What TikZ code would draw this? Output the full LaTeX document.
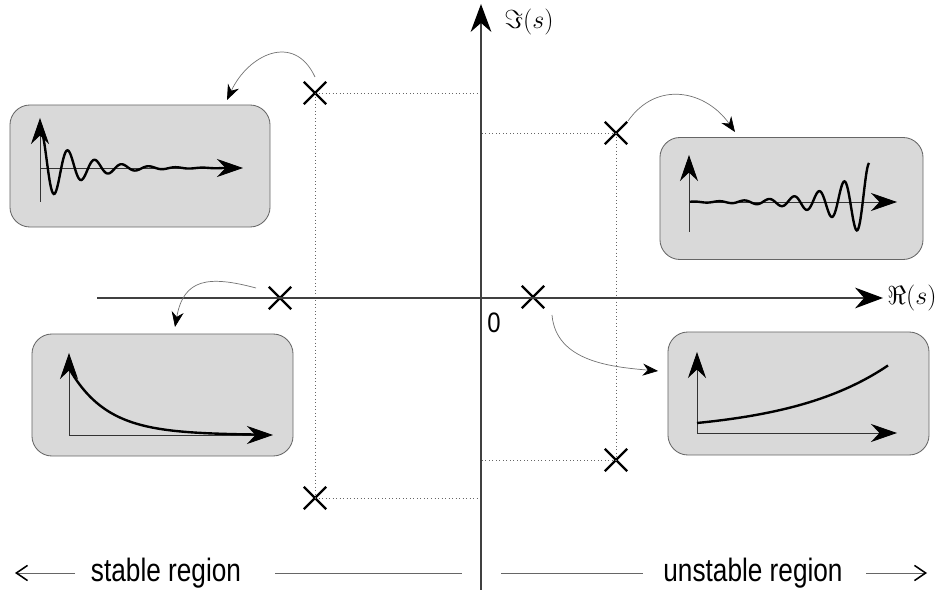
\RequirePackage{fix-cm}
\documentclass[tikz,border=0pt]{standalone}
\usepackage{fontspec}
\newfontfamily\labelfont{Liberation Sans}
\usetikzlibrary{arrows.meta, shapes.misc}

\begin{document}
\begin{tikzpicture}[x=0.025cm, y=0.025cm,
    pole/.style={cross out, draw, line width=1.7pt, minimum size=0.5cm, inner sep=0pt},
    plotbox/.style={draw=black!60, fill=black!15, line width=0.6pt, rounded corners=0.5cm,
        minimum width=6.5cm, minimum height=3.05cm},
    axis/.style={draw=black!75, line width=0.9pt, -{Stealth[black, length=0.7cm, width=0.52cm]}},
    subaxis/.style={draw=black!80, line width=0.6pt, -{Stealth[black, length=0.65cm, width=0.45cm]}},
    resp/.style={line width=1.7pt, black, smooth},
    jump/.style={draw=black!55, line width=0.5pt, -{Stealth[black, length=0.38cm, width=0.3cm]}},
    guide/.style={draw=black!60, dotted, line width=0.5pt},
    side/.style={draw=black!60, line width=0.5pt},
    sidearrow/.style={side, -{Straight Barb[black, length=0.28cm, width=0.38cm, line width=1.1pt]}},
    region/.style={font=\labelfont\fontsize{23}{26}\selectfont, xscale=0.81, inner sep=0pt}]
    \useasboundingbox (0,0) rectangle (943,-590);

    % Plot boxes
    \node [plotbox] (boxTL) at (140,-166) {};
    \node [plotbox, minimum width=6.575cm] (boxTR) at (791.5,-198.5) {};
    \node [plotbox, minimum width=6.525cm] (boxBL) at (162.5,-395) {};
    \node [plotbox, minimum width=6.525cm, minimum height=3.075cm] (boxBR) at (798.5,-393.5) {};

    % Damped oscillation
    \draw [subaxis] (40,-202) -- (40,-118);
    \draw [subaxis] (40,-168) -- (243,-168);
    \draw [resp] plot[domain=41:228, samples=220] (\x, {-168 + 38*exp(-(\x-41)/35)*cos(13.333*(\x-41))});
    % Growing oscillation
    \draw [subaxis] (689,-232) -- (689,-155);
    \draw [subaxis] (689,-202) -- (897,-202);
    \draw [resp] plot[domain=690:869, samples=220] (\x, {-202 + 39*exp((\x-869)/39)*cos(14.4*(\x-869))});
    % Decay
    \draw [subaxis] (69,-435) -- (69,-353);
    \draw [subaxis] (69,-435) -- (273,-435);
    \draw [resp] plot[domain=70:255, samples=80] (\x, {-435 + 65*exp(-(\x-70)/38)});
    % Growth
    \draw [subaxis] (697,-433) -- (697,-352);
    \draw [subaxis] (697,-433) -- (897,-433);
    \draw [resp] plot[domain=697:888, samples=80] (\x, {-433 + 10*exp((\x-697)/100)});

    % Draw axes
    \coordinate (O) at (481,-298);
    \coordinate (vb) at (481,-590);
    \coordinate (vt) at (481,-4);
    \coordinate (hl) at (97,-298);
    \coordinate (hr) at (883,-298);

    % Poles
    \node [pole] (pA) at (315,-93) {};
    \node [pole] (pB) at (616,-133) {};
    \node [pole] (pC) at (280,-298) {};
    \node [pole] (pD) at (533,-297) {};
    \node [pole] (pE) at (616,-460) {};
    \node [pole] (pF) at (315,-498) {};

    \draw [guide] (pA.center) -- (pA.center -| O);
    \draw [guide] (pA.center) -- (pF.center);
    \draw [guide] (pF.center) -- (pF.center -| O);
    \draw [guide] (pB.center) -- (pB.center -| O);
    \draw [guide] (pB.center) -- (pE.center);
    \draw [guide] (pE.center) -- (pE.center -| O);

    \draw [axis] (vb) -- (vt);
    \draw [axis] (hl) -- (hr);
    \node (imlabel) at (529,-22) {\fontsize{18.5}{20}\selectfont$\Im(s)$};
    \node (relabel) at (912,-298) {\fontsize{18.5}{20}\selectfont$\Re(s)$};
    \node [font=\labelfont\fontsize{20}{22}\selectfont, xscale=0.85] (zero) at (494,-323) {0};

    % Pole to response
    \coordinate (sA) at (315,-77);
    \coordinate (eA) at (227,-100);
    \coordinate (sB) at (628,-121);
    \coordinate (eB) at (735,-132);
    \coordinate (sC) at (256,-288);
    \coordinate (eC) at (175,-327);
    \coordinate (sD) at (552,-315);
    \coordinate (eD) at (658,-371);
    \draw [jump] (sA) to[out=115, in=65, looseness=1.4] (eA);
    \draw [jump] (sB) to[out=55, in=125, looseness=1.2] (eB);
    \draw [jump] (sC) to[out=165, in=80, looseness=1.4] (eC);
    \draw [jump] (sD) to[out=-85, in=175] (eD);

    % Regions
    \node [region] (stable) at (166,-573) {stable region};
    \node [region] (unstable) at (753,-573) {unstable region};
    \coordinate (sl) at (15,-573);
    \coordinate (sl0) at (75,-573);
    \coordinate (ml0) at (275,-573);
    \coordinate (ml) at (462,-573);
    \coordinate (mr) at (501,-573);
    \coordinate (mr0) at (643,-573);
    \coordinate (sr0) at (866,-573);
    \coordinate (sr) at (927,-573);
    \draw [sidearrow] (sl0) -- (sl);
    \draw [side] (ml0) -- (ml);
    \draw [side] (mr) -- (mr0);
    \draw [sidearrow] (sr0) -- (sr);
\end{tikzpicture}
\end{document}
